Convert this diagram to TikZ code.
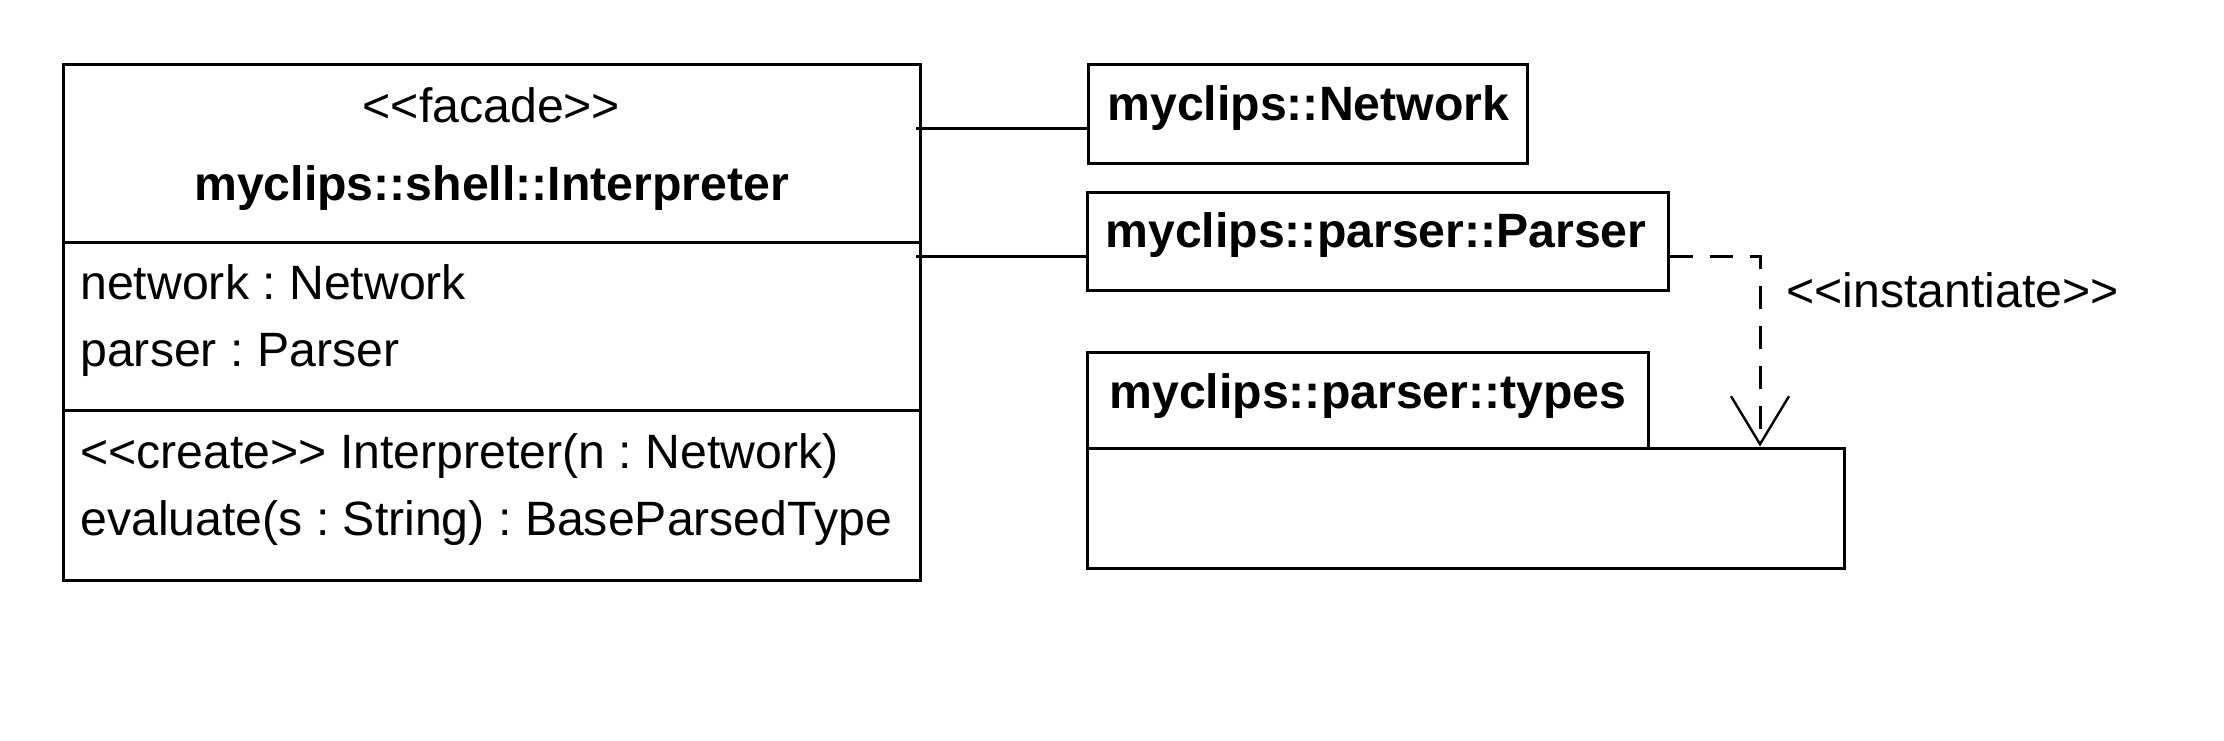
\documentclass[tikz,border=0pt]{standalone}
\usepackage{fontspec}
\setmainfont[Ligatures=NoCommon]{Liberation Sans}
\usetikzlibrary{arrows.meta}
\frenchspacing
\begin{document}
\begin{tikzpicture}[x=0.5pt,y=-0.5pt,
  every node/.style={font=\fontsize{24.1}{29}\selectfont},
  box/.style={draw,line width=1.5pt,inner sep=0pt,minimum width=#1},
  lbl/.style={inner sep=0pt,anchor=base west},
  clbl/.style={inner sep=0pt,anchor=base},
  assoc/.style={line width=1.5pt},
  dep/.style={line width=1.5pt,dash pattern=on 11.5pt off 8.5pt,
    -{Straight Barb[length=24pt,width=29pt,line width=1.2pt]}}]
\useasboundingbox (0,0) rectangle (2224,740);
% main class
\node[box=428.5pt,minimum height=258pt] (interp) at (491.5,322) {};
\coordinate (d1) at (0,242);
\coordinate (d2) at (0,410);
\draw[line width=1.5pt] (interp.west |- d1) -- (interp.east |- d1);
\draw[line width=1.5pt] (interp.west |- d2) -- (interp.east |- d2);
\node[clbl] (st) at (491.5,122) {<{}<facade>{}>};
\node[clbl] (nm) at (491.5,200) {\bfseries myclips::shell::Interpreter};
\node[lbl] (a1) at (80,299) {network : Network};
\node[lbl] (a2) at (80,366) {parser : Parser};
\node[lbl] (o1) at (80,468) {<{}<create>{}> Interpreter(n : Network)};
\node[lbl] (o2) at (80,535) {evaluate(s : String) : BaseParsedType};
% other classes
\node[box=219.5pt,minimum height=49.5pt] (net) at (1308,113.5) {};
\node[lbl] (nett) at (1107,120) {\bfseries myclips::Network};
\node[box=290.5pt,minimum height=49pt] (parser) at (1377.5,241) {};
\node[lbl] (part) at (1105,247) {\bfseries myclips::parser::Parser};
% package
\node[box=280.5pt,minimum height=48pt] (tab) at (1367.5,400) {};
\node[box=378.5pt,minimum height=60pt] (body) at (1465.5,508) {};
\node[lbl] (tabt) at (1109,408) {\bfseries myclips::parser::types};
% connectors
\coordinate (y1) at (0,128);
\coordinate (y2) at (0,256);
\coordinate (xv) at (1760,0);
\draw[assoc,shorten <=-3pt] (interp.east |- y1) -- (net.west |- y1);
\draw[assoc,shorten <=-3pt] (interp.east |- y2) -- (parser.west |- y2);
\draw[dep] (parser.east |- y2) -| (xv |- body.north);
\node[lbl] (inst) at (1786,307) {<{}<instantiate>{}>};
\end{tikzpicture}
\end{document}
